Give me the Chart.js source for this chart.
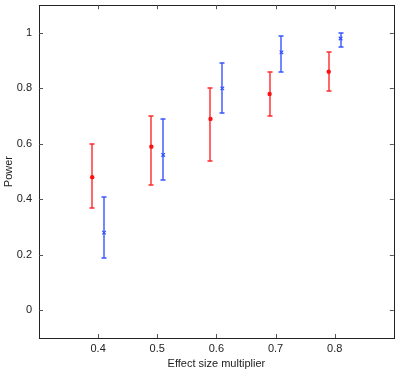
<!DOCTYPE html>
<html>
<head>
<meta charset="utf-8">
<script src="https://cdn.jsdelivr.net/npm/chart.js"></script>
<style>
  html, body { margin: 0; padding: 0; background: #fff; }
  #wrap { width: 399px; height: 371px; }
</style>
</head>
<body>
<div id="wrap"><canvas id="chart" width="399" height="371"></canvas></div>
<script>
// values
const redX = [0.39, 0.49, 0.59, 0.69, 0.79];
const redY = [0.48, 0.59, 0.69, 0.78, 0.86];
const redLow = [0.37, 0.45, 0.54, 0.70, 0.79];
const redHigh = [0.60, 0.70, 0.80, 0.86, 0.93];

const blueX = [0.41, 0.51, 0.61, 0.71, 0.81];
const blueY = [0.28, 0.56, 0.80, 0.93, 0.98];
const blueLow = [0.19, 0.47, 0.71, 0.86, 0.95];
const blueHigh = [0.41, 0.69, 0.89, 0.99, 1.00];

const xTicks = [0.4, 0.5, 0.6, 0.7, 0.8];
const yTicks = [0, 0.2, 0.4, 0.6, 0.8, 1];

const RED = '#ff1010';
const RED_BAR = '#ff2a2a';
const BLUE = '#3050ff';
const BLUE_BAR = '#3a55ff';
const FONT = 'Liberation Sans, Arial, sans-serif';

const toPoints = (xs, ys, lo, hi) => xs.map((x, i) => ({ x: x, y: ys[i], lo: lo[i], hi: hi[i] }));

// error bars + box with inward ticks
const errorBars = {
  id: 'errorBars',
  beforeDatasetsDraw(chart) {
    const ctx = chart.ctx;
    const xs = chart.scales.x, ys = chart.scales.y;
    chart.data.datasets.forEach(ds => {
      ds.data.forEach(p => {
        const px = Math.round(xs.getPixelForValue(p.x));
        const top = Math.round(ys.getPixelForValue(p.hi));
        const bot = Math.round(ys.getPixelForValue(p.lo));
        ctx.save();
        ctx.strokeStyle = ds.barColor;
        ctx.lineWidth = 1.4;
        ctx.beginPath();
        ctx.moveTo(px, top); ctx.lineTo(px, bot);
        ctx.moveTo(px - 2.5, top); ctx.lineTo(px + 2.5, top);
        ctx.moveTo(px - 2.5, bot); ctx.lineTo(px + 2.5, bot);
        ctx.stroke();
        ctx.restore();
      });
    });
  },
  afterDraw(chart) {
    const ctx = chart.ctx;
    const a = chart.chartArea;
    const xs = chart.scales.x, ys = chart.scales.y;
    ctx.save();
    ctx.strokeStyle = '#222';
    ctx.lineWidth = 1;
    ctx.strokeRect(Math.round(a.left) + 0.5, Math.round(a.top) + 0.5,
      Math.round(a.right - a.left), Math.round(a.bottom - a.top));
    ctx.strokeStyle = '#555';
    ctx.beginPath();
    xTicks.forEach(v => {
      const px = Math.round(xs.getPixelForValue(v)) + 0.5;
      ctx.moveTo(px, a.bottom); ctx.lineTo(px, a.bottom - 4);
      ctx.moveTo(px, a.top); ctx.lineTo(px, a.top + 4);
    });
    yTicks.forEach(v => {
      const py = Math.round(ys.getPixelForValue(v)) + 0.5;
      ctx.moveTo(a.left, py); ctx.lineTo(a.left + 4, py);
      ctx.moveTo(a.right, py); ctx.lineTo(a.right - 4, py);
    });
    ctx.stroke();
    ctx.restore();
  }
};

new Chart(document.getElementById('chart'), {
  type: 'scatter',
  data: {
    datasets: [
      {
        label: 'red',
        data: toPoints(redX, redY, redLow, redHigh),
        barColor: RED_BAR,
        pointStyle: 'circle',
        pointRadius: 2.2,
        backgroundColor: RED,
        borderColor: RED,
        borderWidth: 0
      },
      {
        label: 'blue',
        data: toPoints(blueX, blueY, blueLow, blueHigh),
        barColor: BLUE_BAR,
        pointStyle: 'crossRot',
        pointRadius: 2.5,
        backgroundColor: BLUE,
        borderColor: BLUE,
        borderWidth: 1.2
      }
    ]
  },
  options: {
    responsive: false,
    animation: false,
    layout: { padding: { left: 0, right: 4, top: 4, bottom: 0 } },
    plugins: {
      legend: { display: false },
      tooltip: { enabled: false }
    },
    scales: {
      x: {
        type: 'linear',
        min: 0.3,
        max: 0.9,
        afterBuildTicks: s => { s.ticks = xTicks.map(v => ({ value: v })); },
        afterFit: s => { s.height = 33; s.paddingLeft = 0; s.paddingRight = 0; },
        grid: { display: false, drawTicks: false },
        border: { display: false },
        ticks: {
          color: '#222',
          padding: 4,
          font: { family: FONT, size: 11 },
          callback: v => String(v)
        },
        title: {
          display: true,
          text: 'Effect size multiplier',
          color: '#222',
          padding: { top: 0, bottom: 0 },
          font: { family: FONT, size: 11 }
        }
      },
      y: {
        type: 'linear',
        min: -0.1,
        max: 1.1,
        afterBuildTicks: s => { s.ticks = yTicks.map(v => ({ value: v })); },
        afterFit: s => { s.width = 39; s.paddingTop = 0; s.paddingBottom = 0; },
        grid: { display: false, drawTicks: false },
        border: { display: false },
        ticks: {
          color: '#222',
          padding: 7,
          font: { family: FONT, size: 11 },
          callback: v => String(v)
        },
        title: {
          display: true,
          text: 'Power',
          color: '#222',
          padding: { top: 2, bottom: 0 },
          font: { family: FONT, size: 11 }
        }
      }
    }
  },
  plugins: [errorBars]
});
</script>
</body>
</html>
